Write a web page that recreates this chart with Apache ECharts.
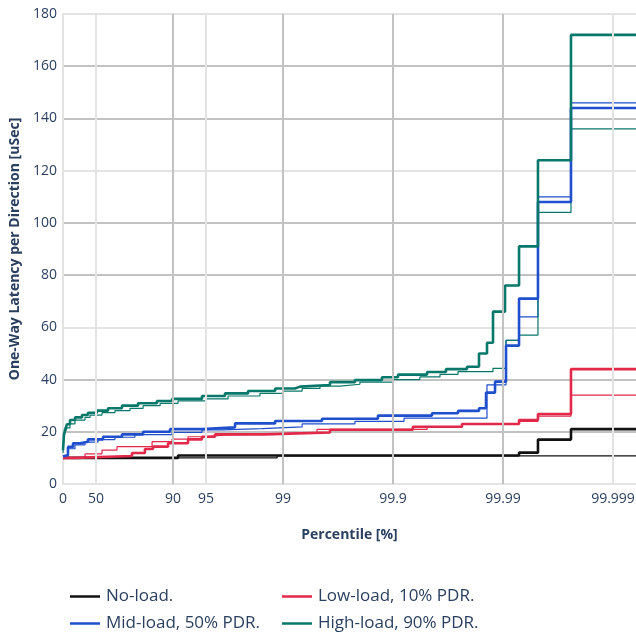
<!DOCTYPE html>
<html>
<head>
<meta charset="utf-8">
<script src="https://cdn.jsdelivr.net/npm/echarts@6/dist/echarts.min.js"></script>
<style>html,body{margin:0;padding:0;background:#fff;}#c{width:636px;height:642px;}</style>
</head>
<body>
<div id="c"></div>
<script>
// X tick positions (percentile) and labels
const xTickPct = [0, 50, 90, 95, 99, 99.9, 99.99, 99.999];
const xTickLabels = ['0', '50', '90', '95', '99', '99.9', '99.99', '99.999'];
const xMajorPct = [90, 99, 99.9, 99.99];
const xMinorPct = [50, 95, 99.999];
const yTicks = [0, 20, 40, 60, 80, 100, 120, 140, 160, 180];

// No-load
const noLoadPctA = [0, 91.0, 99.99285, 99.99519, 99.99759, 99.9994];
const noLoadLatA = [10, 10.9, 12, 17, 21, 21];
const noLoadPctB = [0, 98.87, 99.9994];
const noLoadLatB = [10, 10.8, 10.8];

// Low-load, 10% PDR
const lowPctA = [0, 22.2, 76.4, 82.0, 84.8, 88.9, 92.7, 94.55, 95.85, 98.54, 99.626, 99.934, 99.9764, 99.99285, 99.99519, 99.99759, 99.9994];
const lowLatA = [10, 10.7, 11.9, 13.4, 14.3, 15.6, 17.1, 18.1, 19.0, 19.7, 20.8, 21.9, 23.0, 24.5, 26.8, 44, 44];
const lowPctB = [0, 36.9, 55.8, 67.7, 84.5, 89.8, 92.7, 94.55, 96.84, 98.54, 99.509, 99.951, 99.9764, 99.99285, 99.99519, 99.99759, 99.9994];
const lowLatB = [10, 11.5, 13, 14.3, 16.2, 17.2, 18.1, 18.8, 19.1, 19.8, 20.9, 21.9, 23.0, 24.0, 26.0, 34, 34];

// Mid-load, 50% PDR
const midPctA = [0, 4.1, 9.9, 18.9, 30.0, 40.7, 56.7, 70.9, 81.3, 89.35, 94.55, 97.27, 98.82, 99.558, 99.863, 99.9558, 99.97435, 99.98347, 99.98573, 99.98818, 99.99061, 99.99285, 99.99519, 99.99759, 99.9994];
const midLatA = [10.5, 11.1, 14.2, 15.6, 16.2, 17.1, 18.1, 19.0, 20.0, 21.0, 21.7, 23.2, 24.1, 25.0, 26.2, 27.1, 28.0, 29.0, 35.0, 39.2, 53, 71, 108, 144, 144];
const midPctB = [0, 9.9, 22.2, 36.9, 51.9, 66.3, 77.8, 89.8, 94.55, 96.42, 98.45, 99.33, 99.778, 99.9206, 99.98602, 99.99061, 99.99285, 99.99519, 99.99759, 99.9994];
const midLatB = [10, 13.5, 15.0, 16.0, 17.0, 17.9, 18.9, 19.8, 20.7, 21.2, 21.9, 23.0, 24.0, 25.2, 38, 55, 64, 110, 146, 146];

// High-load, 90% PDR
const highPctA = [0, 2.0, 4.1, 8.0, 13.6, 22.2, 32.8, 40.7, 50.9, 61.0, 70.9, 79.2, 86.0, 89.8, 94.55, 96.63, 97.92, 98.82, 99.22, 99.30, 99.626, 99.778, 99.874, 99.910, 99.951, 99.967, 99.97875, 99.98347, 99.98602, 99.98767, 99.99041, 99.99285, 99.99519, 99.99759, 99.9994];
const highLatA = [13, 19, 20.7, 22.9, 24.5, 25.5, 26.4, 27.3, 28.1, 29.0, 30.0, 30.9, 31.8, 32.6, 33.7, 34.7, 35.6, 36.6, 37.3, 37.9, 39.0, 39.8, 40.9, 41.9, 42.9, 44.0, 44.9, 50, 54.1, 66, 76, 91, 124, 172, 172];
const highPctB = [0, 2.0, 4.1, 8.0, 13.6, 22.2, 36.9, 43.2, 55.8, 66.3, 75.4, 81.3, 86.9, 91.0, 95.0, 96.84, 98.38, 99.0, 99.33, 99.539, 99.697, 99.80, 99.9, 99.943, 99.9626, 99.97435, 99.98767, 99.99061, 99.99285, 99.99519, 99.99759, 99.9994];
const highLatB = [12, 18, 19.5, 21.5, 23.0, 24.5, 25.5, 26.4, 27.3, 28.1, 29.0, 30.0, 30.9, 31.8, 32.6, 33.7, 34.7, 35.6, 36.6, 37.5, 38.2, 39.0, 40.0, 41.0, 42.0, 43.0, 44.3, 55, 57, 104, 136, 136];

const colors = { no: '#111111', low: '#e3294a', mid: '#1f4fcc', high: '#08786b' };
const names = ['No-load.', 'Low-load, 10% PDR.', 'Mid-load, 50% PDR.', 'High-load, 90% PDR.'];

function nines(p) { return p <= 0 ? 0 : -Math.log10(1 - p / 100); }
function pts(pct, lat) { return pct.map((p, i) => [nines(p), lat[i]]); }

const tickNines = xTickPct.map(nines);
const textColor = '#2a3f5f';
const font = 'Open Sans';

function lineSeries(name, pct, lat, color, width, z) {
  return {
    name: name, type: 'line', step: 'end', showSymbol: false, symbol: 'none',
    data: pts(pct, lat), z: z, clip: true,
    lineStyle: { color: color, width: width }, itemStyle: { color: color },
    emphasis: { disabled: true }
  };
}

const gridSeries = {
  name: '_grid', type: 'line', data: [], silent: true, z: 1,
  markLine: {
    silent: true, symbol: 'none', label: { show: false }, animation: false,
    data: xMajorPct.map(p => ({ xAxis: nines(p), lineStyle: { color: '#c2c2c2', width: 2, type: 'solid' } }))
      .concat(xMinorPct.map(p => ({ xAxis: nines(p), lineStyle: { color: '#e3e3e3', width: 2, type: 'solid' } })))
  }
};

function legendAt(name, left, top) {
  return {
    data: [name], left: left, top: top, padding: 0, itemWidth: 30, itemHeight: 2.5, itemGap: 6,
    icon: 'rect', selectedMode: false,
    textStyle: { fontFamily: font, fontSize: 17, color: textColor, padding: [0, 0, 0, 1] }
  };
}

const option = {
  animation: false,
  backgroundColor: '#ffffff',
  grid: { left: 63, right: 0, top: 14, bottom: 158, containLabel: false, outerBoundsMode: 'none' },
  legend: [
    legendAt(names[0], 70, 588),
    legendAt(names[1], 282, 588),
    legendAt(names[2], 70, 615),
    legendAt(names[3], 282, 615)
  ],
  xAxis: {
    type: 'value', min: 0, max: 5.209,
    name: 'Percentile [%]', nameLocation: 'middle', nameGap: 44,
    nameTextStyle: { fontFamily: font, fontSize: 14, fontWeight: 'bold', color: textColor },
    axisLine: { show: true, lineStyle: { color: '#e3e3e3', width: 2 } },
    axisTick: { show: false },
    splitLine: { show: false },
    axisLabel: {
      customValues: tickNines, margin: 8,
      fontFamily: font, fontSize: 14, color: textColor,
      formatter: function (v) {
        let best = 0, bd = Infinity;
        tickNines.forEach((t, i) => { const d = Math.abs(t - v); if (d < bd) { bd = d; best = i; } });
        return xTickLabels[best];
      }
    }
  },
  yAxis: {
    type: 'value', min: 0, max: 180, interval: 20,
    name: 'One-Way Latency per Direction [uSec]', nameLocation: 'middle', nameGap: 34,
    nameTextStyle: { fontFamily: font, fontSize: 14, fontWeight: 'bold', color: textColor },
    axisLine: { show: true, lineStyle: { color: '#e3e3e3', width: 2 } },
    axisTick: { show: false },
    axisLabel: { fontFamily: font, fontSize: 14, color: textColor, margin: 6 },
    splitLine: { show: true, lineStyle: { color: ['#e3e3e3', '#c2c2c2', '#c2c2c2'], width: 2 } }
  },
  series: [
    gridSeries,
    lineSeries(names[0] + ' (B)', noLoadPctB, noLoadLatB, colors.no, 1.2, 3),
    lineSeries(names[1] + ' (B)', lowPctB, lowLatB, colors.low, 1.2, 3),
    lineSeries(names[2] + ' (B)', midPctB, midLatB, colors.mid, 1.2, 3),
    lineSeries(names[3] + ' (B)', highPctB, highLatB, colors.high, 1.2, 3),
    lineSeries(names[0], noLoadPctA, noLoadLatA, colors.no, 2.6, 4),
    lineSeries(names[1], lowPctA, lowLatA, colors.low, 2.6, 4),
    lineSeries(names[2], midPctA, midLatA, colors.mid, 2.6, 4),
    lineSeries(names[3], highPctA, highLatA, colors.high, 2.6, 4)
  ]
};

const chart = echarts.init(document.getElementById('c'), null, { renderer: 'canvas' });
chart.setOption(option);
</script>
</body>
</html>
